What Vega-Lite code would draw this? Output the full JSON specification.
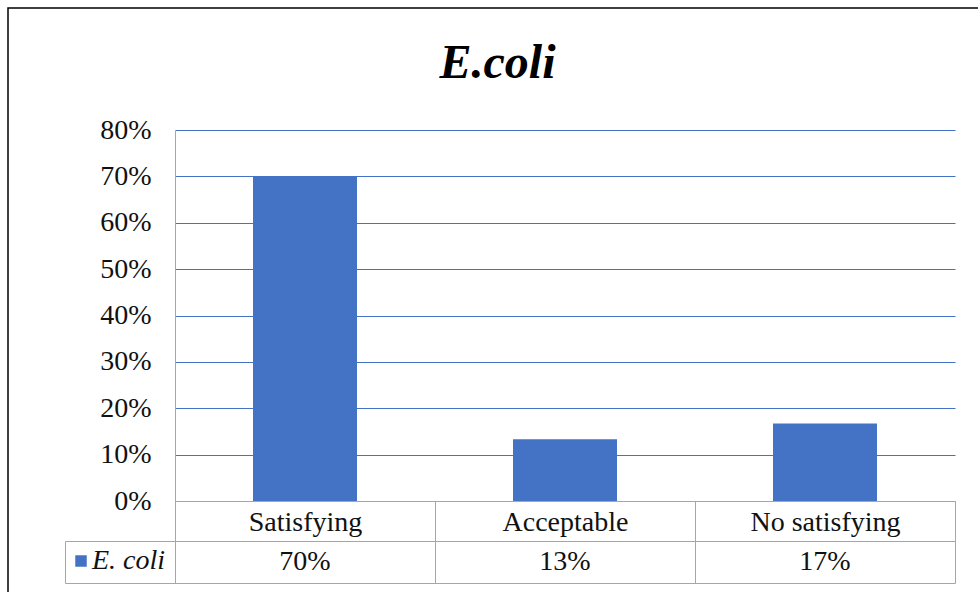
{
  "$schema": "https://vega.github.io/schema/vega-lite/v6.json",
  "width": 972,
  "height": 586,
  "autosize": {"type": "none"},
  "padding": {"left": 8, "top": 8, "right": -2, "bottom": -2},
  "background": "white",
  "title": {
    "text": "E.coli",
    "font": "Liberation Serif",
    "fontSize": 48,
    "fontWeight": "bold",
    "fontStyle": "italic",
    "color": "#000000",
    "anchor": "middle",
    "offset": -80,
    "dx": 3.5
  },
  "data": {
    "values": [
      {"category": "Satisfying", "series": "E. coli", "value": 0.70},
      {"category": "Acceptable", "series": "E. coli", "value": 0.133},
      {"category": "No satisfying", "series": "E. coli", "value": 0.167}
    ]
  },
  "layer": [
    {
      "mark": {"type": "bar", "width": {"band": 0.4}},
      "encoding": {
        "x": {
          "field": "category",
          "type": "nominal",
          "sort": null,
          "scale": {"range": [167, 947], "paddingInner": 0, "paddingOuter": 0},
          "axis": {
            "orient": "bottom",
            "offset": -93,
            "tickBand": "extent",
            "ticks": true,
            "tickSize": 82,
            "tickColor": "#A6A6A6",
            "tickWidth": 1,
            "domain": true,
            "domainColor": "#A6A6A6",
            "domainWidth": 1,
            "labels": true,
            "labelFont": "Liberation Serif",
            "labelFontSize": 28,
            "labelColor": "#111111",
            "labelBaseline": "alphabetic",
            "labelPadding": -53,
            "labelAngle": 0,
            "labelLimit": 400,
            "title": null,
            "grid": false,
            "zindex": 1
          }
        },
        "y": {
          "field": "value",
          "type": "quantitative",
          "scale": {"domain": [0, 0.8], "range": [493, 122], "nice": false},
          "axis": {
            "orient": "left",
            "offset": -167,
            "values": [0, 0.1, 0.2, 0.3, 0.4, 0.5, 0.6, 0.7, 0.8],
            "format": ".0%",
            "ticks": false,
            "domainColor": "#A6A6A6",
            "domainWidth": 1,
            "grid": true,
            "gridColor": "#4472C4",
            "gridWidth": 1,
            "labelFont": "Liberation Serif",
            "labelFontSize": 28,
            "labelColor": "#111111",
            "labelPadding": 24,
            "title": null
          }
        },
        "color": {
          "field": "series",
          "type": "nominal",
          "scale": {"range": ["#4472C4"]},
          "legend": {
            "orient": "none",
            "legendX": 59,
            "legendY": 539,
            "title": null,
            "symbolType": "square",
            "symbolSize": 132,
            "symbolStrokeWidth": 0,
            "labelFont": "Liberation Serif",
            "labelFontSize": 28,
            "labelFontStyle": "italic",
            "labelColor": "#111111",
            "labelOffset": -3,
            "padding": 0
          }
        }
      }
    },
    {
      "mark": {"type": "text", "font": "Liberation Serif", "fontSize": 28, "color": "#111111", "baseline": "middle"},
      "encoding": {
        "x": {
          "field": "category",
          "type": "nominal",
          "sort": null,
          "axis": {
            "orient": "bottom",
            "offset": -93,
            "tickBand": "extent",
            "ticks": true,
            "tickSize": 82,
            "tickColor": "#A6A6A6",
            "tickWidth": 1,
            "domain": true,
            "domainColor": "#A6A6A6",
            "domainWidth": 1,
            "labels": true,
            "labelFont": "Liberation Serif",
            "labelFontSize": 28,
            "labelColor": "#111111",
            "labelBaseline": "alphabetic",
            "labelPadding": -53,
            "labelAngle": 0,
            "labelLimit": 400,
            "title": null,
            "grid": false,
            "zindex": 1
          }
        },
        "y": {
          "field": "series",
          "type": "nominal",
          "scale": {"type": "band", "range": [533, 575], "paddingInner": 0, "paddingOuter": 0},
          "axis": {
            "orient": "left",
            "offset": -57,
            "tickBand": "extent",
            "tickSize": -890,
            "tickColor": "#A6A6A6",
            "tickWidth": 1,
            "domainColor": "#A6A6A6",
            "domainWidth": 1,
            "labels": false,
            "grid": false,
            "title": null
          }
        },
        "text": {"field": "value", "type": "quantitative", "format": ".0%"}
      }
    }
  ],
  "resolve": {"scale": {"y": "independent"}, "axis": {"y": "independent"}},
  "config": {"view": {"stroke": "#000000", "strokeWidth": 1.5}}
}
